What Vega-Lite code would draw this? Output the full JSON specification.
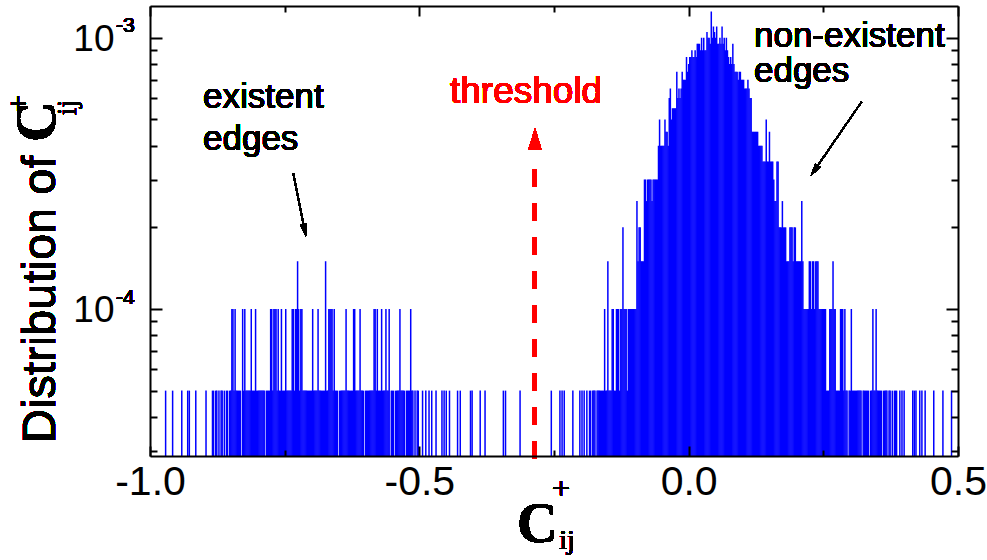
{
"$schema": "https://vega.github.io/schema/vega-lite/v6.json",
"width": 808, "height": 450,
"autosize": {"type": "none"},
"padding": {"left": 150, "top": 6, "right": 29, "bottom": 104},
"config": {"font": "Liberation Sans", "view": {"stroke": null}, "text": {"fontWeight": "normal", "strokeWidth": 0}},
"resolve": {"axis": {"x": "independent", "y": "independent"}},
"data": {"values": [
{"x":-0.971,"p":5e-5},{"x":-0.958,"p":5e-5},{"x":-0.941,"p":5e-5},{"x":-0.930,"p":5e-5},{"x":-0.927,"p":5e-5},{"x":-0.915,"p":5e-5},{"x":-0.896,"p":5e-5},
{"x":-0.884,"p":5e-5},{"x":-0.882,"p":5e-5},{"x":-0.878,"p":5e-5},{"x":-0.876,"p":5e-5},{"x":-0.872,"p":5e-5},{"x":-0.868,"p":5e-5},{"x":-0.866,"p":5e-5},{"x":-0.862,"p":5e-5},{"x":-0.858,"p":5e-5},{"x":-0.856,"p":5e-5},{"x":-0.852,"p":5e-5},{"x":-0.850,"p":5e-5},
{"x":-0.848,"p":1e-4},{"x":-0.846,"p":1e-4},{"x":-0.844,"p":5e-5},{"x":-0.842,"p":1e-4},{"x":-0.840,"p":5e-5},{"x":-0.838,"p":5e-5},{"x":-0.836,"p":5e-5},{"x":-0.834,"p":5e-5},{"x":-0.832,"p":5e-5},
{"x":-0.828,"p":1e-4},{"x":-0.826,"p":5e-5},{"x":-0.824,"p":1e-4},{"x":-0.822,"p":5e-5},{"x":-0.820,"p":5e-5},{"x":-0.818,"p":5e-5},{"x":-0.816,"p":5e-5},{"x":-0.814,"p":5e-5},
{"x":-0.812,"p":1e-4},{"x":-0.810,"p":5e-5},{"x":-0.808,"p":5e-5},{"x":-0.806,"p":5e-5},{"x":-0.804,"p":1e-4},
{"x":-0.802,"p":5e-5},{"x":-0.800,"p":5e-5},{"x":-0.798,"p":5e-5},{"x":-0.796,"p":5e-5},{"x":-0.794,"p":5e-5},{"x":-0.792,"p":5e-5},{"x":-0.790,"p":5e-5},{"x":-0.788,"p":5e-5},{"x":-0.784,"p":5e-5},{"x":-0.782,"p":5e-5},{"x":-0.780,"p":5e-5},{"x":-0.778,"p":5e-5},
{"x":-0.776,"p":1e-4},{"x":-0.774,"p":1e-4},{"x":-0.772,"p":5e-5},{"x":-0.770,"p":1e-4},{"x":-0.768,"p":1e-4},{"x":-0.766,"p":1e-4},{"x":-0.764,"p":5e-5},{"x":-0.762,"p":1e-4},
{"x":-0.760,"p":5e-5},{"x":-0.758,"p":5e-5},{"x":-0.756,"p":1e-4},{"x":-0.754,"p":5e-5},{"x":-0.752,"p":5e-5},{"x":-0.750,"p":5e-5},{"x":-0.748,"p":1e-4},
{"x":-0.746,"p":5e-5},{"x":-0.744,"p":5e-5},{"x":-0.742,"p":5e-5},{"x":-0.740,"p":5e-5},{"x":-0.738,"p":5e-5},
{"x":-0.736,"p":1e-4},{"x":-0.734,"p":1e-4},{"x":-0.732,"p":5e-5},{"x":-0.730,"p":1e-4},{"x":-0.728,"p":1e-4},{"x":-0.726,"p":1.5e-4},{"x":-0.724,"p":1e-4},{"x":-0.722,"p":5e-5},{"x":-0.720,"p":1e-4},{"x":-0.718,"p":1e-4},
{"x":-0.716,"p":5e-5},{"x":-0.714,"p":5e-5},{"x":-0.712,"p":5e-5},{"x":-0.710,"p":5e-5},{"x":-0.708,"p":5e-5},{"x":-0.706,"p":5e-5},{"x":-0.704,"p":5e-5},{"x":-0.702,"p":5e-5},{"x":-0.700,"p":5e-5},
{"x":-0.698,"p":1e-4},{"x":-0.696,"p":5e-5},{"x":-0.694,"p":5e-5},{"x":-0.692,"p":5e-5},{"x":-0.690,"p":5e-5},{"x":-0.688,"p":1e-4},
{"x":-0.686,"p":5e-5},{"x":-0.684,"p":5e-5},{"x":-0.682,"p":5e-5},{"x":-0.680,"p":5e-5},{"x":-0.678,"p":5e-5},{"x":-0.676,"p":5e-5},{"x":-0.674,"p":1.5e-4},{"x":-0.672,"p":5e-5},{"x":-0.670,"p":5e-5},
{"x":-0.668,"p":1e-4},{"x":-0.666,"p":1e-4},{"x":-0.664,"p":1e-4},{"x":-0.662,"p":1e-4},{"x":-0.660,"p":5e-5},{"x":-0.658,"p":1e-4},
{"x":-0.656,"p":5e-5},{"x":-0.654,"p":5e-5},{"x":-0.652,"p":5e-5},{"x":-0.648,"p":5e-5},{"x":-0.646,"p":5e-5},{"x":-0.644,"p":5e-5},{"x":-0.642,"p":5e-5},{"x":-0.640,"p":5e-5},{"x":-0.638,"p":5e-5},
{"x":-0.636,"p":1e-4},{"x":-0.634,"p":5e-5},{"x":-0.632,"p":5e-5},{"x":-0.630,"p":5e-5},{"x":-0.628,"p":5e-5},{"x":-0.626,"p":5e-5},{"x":-0.624,"p":5e-5},
{"x":-0.622,"p":1e-4},{"x":-0.620,"p":1e-4},{"x":-0.618,"p":5e-5},{"x":-0.616,"p":5e-5},{"x":-0.614,"p":5e-5},{"x":-0.612,"p":5e-5},{"x":-0.610,"p":1e-4},
{"x":-0.608,"p":5e-5},{"x":-0.606,"p":5e-5},{"x":-0.604,"p":5e-5},{"x":-0.600,"p":5e-5},{"x":-0.598,"p":5e-5},{"x":-0.596,"p":5e-5},{"x":-0.594,"p":5e-5},{"x":-0.592,"p":5e-5},{"x":-0.590,"p":5e-5},{"x":-0.588,"p":5e-5},{"x":-0.586,"p":5e-5},
{"x":-0.584,"p":1e-4},{"x":-0.582,"p":1e-4},{"x":-0.580,"p":5e-5},{"x":-0.578,"p":1e-4},{"x":-0.576,"p":5e-5},{"x":-0.574,"p":5e-5},{"x":-0.572,"p":5e-5},{"x":-0.570,"p":1e-4},
{"x":-0.568,"p":5e-5},{"x":-0.566,"p":5e-5},{"x":-0.564,"p":5e-5},{"x":-0.562,"p":1e-4},{"x":-0.560,"p":5e-5},{"x":-0.558,"p":5e-5},{"x":-0.556,"p":1e-4},
{"x":-0.552,"p":5e-5},{"x":-0.550,"p":5e-5},{"x":-0.548,"p":5e-5},{"x":-0.544,"p":5e-5},{"x":-0.542,"p":5e-5},{"x":-0.540,"p":5e-5},{"x":-0.538,"p":5e-5},{"x":-0.536,"p":1e-4},
{"x":-0.534,"p":5e-5},{"x":-0.532,"p":5e-5},{"x":-0.530,"p":5e-5},{"x":-0.528,"p":5e-5},{"x":-0.524,"p":5e-5},{"x":-0.522,"p":5e-5},{"x":-0.520,"p":5e-5},{"x":-0.518,"p":5e-5},{"x":-0.516,"p":1e-4},
{"x":-0.514,"p":5e-5},{"x":-0.512,"p":5e-5},{"x":-0.508,"p":5e-5},{"x":-0.504,"p":5e-5},{"x":-0.502,"p":5e-5},
{"x":-0.494,"p":5e-5},{"x":-0.488,"p":5e-5},{"x":-0.482,"p":5e-5},{"x":-0.477,"p":5e-5},{"x":-0.469,"p":5e-5},{"x":-0.458,"p":5e-5},{"x":-0.454,"p":5e-5},{"x":-0.450,"p":5e-5},{"x":-0.444,"p":5e-5},{"x":-0.429,"p":5e-5},{"x":-0.424,"p":5e-5},{"x":-0.405,"p":5e-5},{"x":-0.402,"p":5e-5},{"x":-0.387,"p":5e-5},{"x":-0.378,"p":5e-5},{"x":-0.344,"p":5e-5},{"x":-0.340,"p":5e-5},{"x":-0.313,"p":5e-5},{"x":-0.255,"p":5e-5},{"x":-0.239,"p":5e-5},{"x":-0.235,"p":5e-5},{"x":-0.231,"p":5e-5},{"x":-0.215,"p":5e-5},{"x":-0.202,"p":5e-5},{"x":-0.198,"p":5e-5},{"x":-0.194,"p":5e-5},{"x":-0.189,"p":5e-5},
{"x":-0.184,"p":5e-5},{"x":-0.182,"p":5e-5},{"x":-0.178,"p":5e-5},{"x":-0.176,"p":5e-5},{"x":-0.174,"p":5e-5},{"x":-0.170,"p":5e-5},{"x":-0.168,"p":5e-5},{"x":-0.166,"p":5e-5},{"x":-0.164,"p":5e-5},{"x":-0.162,"p":5e-5},{"x":-0.160,"p":5e-5},{"x":-0.158,"p":5e-5},
{"x":-0.156,"p":1e-4},{"x":-0.154,"p":5e-5},{"x":-0.152,"p":5e-5},{"x":-0.150,"p":1.5e-4},{"x":-0.148,"p":5e-5},{"x":-0.146,"p":5e-5},{"x":-0.144,"p":5e-5},{"x":-0.142,"p":1e-4},{"x":-0.140,"p":1e-4},{"x":-0.138,"p":5e-5},{"x":-0.136,"p":5e-5},
{"x":-0.134,"p":1e-4},{"x":-0.132,"p":1e-4},{"x":-0.130,"p":1e-4},{"x":-0.128,"p":5e-5},{"x":-0.126,"p":1e-4},{"x":-0.124,"p":1e-4},{"x":-0.122,"p":2e-4},{"x":-0.120,"p":1e-4},{"x":-0.118,"p":1e-4},{"x":-0.116,"p":1e-4},{"x":-0.114,"p":5e-5},{"x":-0.112,"p":1e-4},{"x":-0.110,"p":1e-4},{"x":-0.108,"p":1e-4},{"x":-0.106,"p":1e-4},{"x":-0.104,"p":1e-4},{"x":-0.102,"p":1e-4},{"x":-0.100,"p":1e-4},{"x":-0.098,"p":1e-4},
{"x":-0.096,"p":2.5e-4},{"x":-0.094,"p":1.5e-4},{"x":-0.092,"p":2e-4},{"x":-0.090,"p":2e-4},{"x":-0.088,"p":1.5e-4},{"x":-0.086,"p":1.5e-4},{"x":-0.084,"p":1.5e-4},
{"x":-0.082,"p":3e-4},{"x":-0.080,"p":3e-4},{"x":-0.078,"p":2.5e-4},{"x":-0.076,"p":3e-4},{"x":-0.074,"p":3e-4},{"x":-0.072,"p":3e-4},{"x":-0.070,"p":3e-4},{"x":-0.068,"p":2.5e-4},{"x":-0.066,"p":3e-4},{"x":-0.064,"p":3e-4},{"x":-0.062,"p":3e-4},{"x":-0.060,"p":3e-4},{"x":-0.058,"p":3e-4},
{"x":-0.056,"p":4e-4},{"x":-0.054,"p":5e-4},{"x":-0.052,"p":4e-4},{"x":-0.050,"p":4e-4},{"x":-0.048,"p":4e-4},{"x":-0.046,"p":4e-4},{"x":-0.044,"p":5e-4},{"x":-0.042,"p":4.5e-4},{"x":-0.040,"p":4.5e-4},{"x":-0.038,"p":4e-4},
{"x":-0.036,"p":6e-4},{"x":-0.034,"p":6.5e-4},{"x":-0.032,"p":5e-4},{"x":-0.030,"p":5.5e-4},{"x":-0.028,"p":5.5e-4},{"x":-0.026,"p":5.5e-4},{"x":-0.024,"p":5.5e-4},{"x":-0.022,"p":7.5e-4},{"x":-0.020,"p":6e-4},{"x":-0.018,"p":6.5e-4},{"x":-0.016,"p":6e-4},{"x":-0.014,"p":6.5e-4},{"x":-0.012,"p":7.5e-4},{"x":-0.010,"p":7e-4},{"x":-0.008,"p":7e-4},{"x":-0.006,"p":7e-4},{"x":-0.004,"p":8.5e-4},{"x":-0.002,"p":7.5e-4},
{"x":0.000,"p":8e-4},{"x":0.002,"p":8.5e-4},{"x":0.004,"p":8.5e-4},{"x":0.006,"p":9e-4},{"x":0.008,"p":8.5e-4},{"x":0.010,"p":8.5e-4},{"x":0.012,"p":9e-4},{"x":0.014,"p":8.5e-4},{"x":0.016,"p":9.5e-4},{"x":0.018,"p":9.5e-4},{"x":0.020,"p":9.5e-4},{"x":0.022,"p":9e-4},{"x":0.024,"p":1e-3},{"x":0.026,"p":9e-4},{"x":0.028,"p":1e-3},{"x":0.030,"p":9e-4},{"x":0.032,"p":9e-4},{"x":0.034,"p":1.05e-3},{"x":0.036,"p":1e-3},{"x":0.038,"p":1e-3},{"x":0.040,"p":9.5e-4},
{"x":0.042,"p":1.25e-3},{"x":0.044,"p":1e-3},{"x":0.046,"p":1.1e-3},{"x":0.048,"p":1.05e-3},{"x":0.050,"p":1e-3},{"x":0.052,"p":1.1e-3},{"x":0.054,"p":9.5e-4},{"x":0.056,"p":9.5e-4},{"x":0.058,"p":1e-3},{"x":0.060,"p":9.5e-4},{"x":0.062,"p":1.1e-3},{"x":0.064,"p":9.5e-4},{"x":0.066,"p":1e-3},{"x":0.068,"p":9e-4},{"x":0.070,"p":1e-3},{"x":0.072,"p":9e-4},{"x":0.074,"p":8.5e-4},{"x":0.076,"p":8e-4},{"x":0.078,"p":8.5e-4},{"x":0.080,"p":8e-4},{"x":0.082,"p":9.5e-4},{"x":0.084,"p":8e-4},
{"x":0.086,"p":7.5e-4},{"x":0.088,"p":7.5e-4},{"x":0.090,"p":7.5e-4},{"x":0.092,"p":7e-4},{"x":0.094,"p":7.5e-4},{"x":0.096,"p":7.5e-4},{"x":0.098,"p":7e-4},{"x":0.100,"p":7e-4},{"x":0.102,"p":7e-4},{"x":0.104,"p":6.5e-4},{"x":0.106,"p":6.5e-4},{"x":0.108,"p":6.5e-4},{"x":0.110,"p":7e-4},{"x":0.112,"p":6.5e-4},{"x":0.114,"p":6e-4},{"x":0.116,"p":6e-4},
{"x":0.118,"p":4.5e-4},{"x":0.120,"p":4.5e-4},{"x":0.122,"p":4.5e-4},{"x":0.124,"p":4.5e-4},{"x":0.126,"p":4.5e-4},{"x":0.128,"p":4.5e-4},{"x":0.130,"p":4e-4},{"x":0.132,"p":4e-4},{"x":0.134,"p":4e-4},{"x":0.136,"p":4e-4},{"x":0.138,"p":3.5e-4},{"x":0.140,"p":3.5e-4},{"x":0.142,"p":3.5e-4},{"x":0.144,"p":5e-4},{"x":0.146,"p":3.5e-4},{"x":0.148,"p":3.5e-4},{"x":0.150,"p":4.5e-4},{"x":0.152,"p":3.5e-4},{"x":0.154,"p":3.5e-4},{"x":0.156,"p":3.5e-4},{"x":0.158,"p":3e-4},
{"x":0.160,"p":2.5e-4},{"x":0.162,"p":2.5e-4},{"x":0.164,"p":3.5e-4},{"x":0.166,"p":3.5e-4},{"x":0.168,"p":2e-4},{"x":0.170,"p":2e-4},{"x":0.172,"p":2e-4},{"x":0.174,"p":2.5e-4},{"x":0.176,"p":2e-4},{"x":0.178,"p":2e-4},{"x":0.180,"p":2e-4},{"x":0.182,"p":1.5e-4},{"x":0.184,"p":1.5e-4},{"x":0.186,"p":1.5e-4},{"x":0.188,"p":2e-4},{"x":0.190,"p":2e-4},{"x":0.192,"p":2e-4},{"x":0.194,"p":1.5e-4},{"x":0.196,"p":2e-4},{"x":0.198,"p":2e-4},
{"x":0.200,"p":1.5e-4},{"x":0.202,"p":1.5e-4},{"x":0.204,"p":1.5e-4},{"x":0.206,"p":1.5e-4},{"x":0.208,"p":1.5e-4},{"x":0.210,"p":2.5e-4},{"x":0.212,"p":1.5e-4},{"x":0.214,"p":1e-4},{"x":0.216,"p":1e-4},{"x":0.218,"p":1e-4},{"x":0.220,"p":1e-4},{"x":0.222,"p":1e-4},{"x":0.224,"p":1.5e-4},{"x":0.226,"p":1.5e-4},{"x":0.228,"p":1e-4},{"x":0.230,"p":1.5e-4},{"x":0.232,"p":1.5e-4},{"x":0.234,"p":1e-4},{"x":0.236,"p":1.5e-4},{"x":0.238,"p":1.5e-4},{"x":0.240,"p":1.5e-4},
{"x":0.242,"p":1e-4},{"x":0.244,"p":1e-4},{"x":0.246,"p":1e-4},{"x":0.248,"p":1e-4},{"x":0.250,"p":1e-4},{"x":0.252,"p":1e-4},{"x":0.254,"p":1e-4},{"x":0.256,"p":5e-5},{"x":0.258,"p":5e-5},{"x":0.260,"p":5e-5},{"x":0.262,"p":1e-4},{"x":0.264,"p":1e-4},{"x":0.266,"p":1e-4},{"x":0.268,"p":1.5e-4},{"x":0.270,"p":1e-4},{"x":0.272,"p":1e-4},{"x":0.274,"p":5e-5},{"x":0.276,"p":5e-5},{"x":0.278,"p":5e-5},{"x":0.280,"p":5e-5},{"x":0.282,"p":1e-4},{"x":0.284,"p":1e-4},{"x":0.286,"p":1e-4},{"x":0.288,"p":5e-5},{"x":0.290,"p":1e-4},{"x":0.292,"p":5e-5},
{"x":0.294,"p":5e-5},{"x":0.298,"p":5e-5},{"x":0.300,"p":5e-5},{"x":0.302,"p":1e-4},{"x":0.304,"p":5e-5},{"x":0.306,"p":5e-5},{"x":0.308,"p":5e-5},{"x":0.310,"p":5e-5},{"x":0.312,"p":5e-5},{"x":0.314,"p":5e-5},{"x":0.316,"p":5e-5},{"x":0.318,"p":5e-5},{"x":0.320,"p":5e-5},{"x":0.324,"p":5e-5},{"x":0.326,"p":5e-5},{"x":0.328,"p":5e-5},{"x":0.330,"p":5e-5},{"x":0.332,"p":5e-5},{"x":0.334,"p":5e-5},{"x":0.338,"p":5e-5},{"x":0.340,"p":5e-5},{"x":0.342,"p":1e-4},{"x":0.344,"p":5e-5},{"x":0.346,"p":5e-5},{"x":0.348,"p":1e-4},{"x":0.350,"p":5e-5},{"x":0.352,"p":5e-5},{"x":0.354,"p":5e-5},{"x":0.356,"p":5e-5},{"x":0.358,"p":5e-5},{"x":0.362,"p":5e-5},{"x":0.364,"p":5e-5},{"x":0.366,"p":5e-5},{"x":0.368,"p":5e-5},{"x":0.372,"p":5e-5},{"x":0.374,"p":5e-5},{"x":0.378,"p":5e-5},{"x":0.382,"p":5e-5},{"x":0.384,"p":5e-5},
{"x":0.386,"p":5e-5},{"x":0.392,"p":5e-5},{"x":0.396,"p":5e-5},{"x":0.400,"p":5e-5},{"x":0.416,"p":5e-5},{"x":0.419,"p":5e-5},{"x":0.422,"p":5e-5},{"x":0.429,"p":5e-5},{"x":0.433,"p":5e-5},{"x":0.439,"p":5e-5},{"x":0.455,"p":5e-5},{"x":0.472,"p":5e-5},{"x":0.488,"p":5e-5}
]},
"layer": [
{"mark": {"type": "rule", "color": "#0000ff", "strokeWidth": 1.5},
 "encoding": {
  "x": {"field": "x", "type": "quantitative", "scale": {"domain": [-1, 0.5], "nice": false, "zero": false},
   "axis": {"orient": "bottom", "title": null, "grid": false, "zindex": 1, "values": [-1, -0.75, -0.5, -0.25, 0, 0.25, 0.5],
    "domainColor": "black", "domainWidth": 2, "tickColor": "black", "tickWidth": 2, "tickSize": -10,
    "tickDash": {"condition": {"test": "datum.value == -0.75 || datum.value == -0.25 || datum.value == 0.25", "value": [6, 20]}, "value": [10, 0]},
    "labelExpr": "datum.value == -1 ? '-1.0' : datum.value == -0.5 ? '-0.5' : datum.value == 0 ? '0.0' : datum.value == 0.5 ? '0.5' : ''",
    "labelFont": "Liberation Sans", "labelFontSize": 41, "labelColor": "black", "labelPadding": 16, "labelFlush": false, "labelOverlap": false}},
  "y": {"field": "p", "type": "quantitative", "scale": {"type": "log", "domain": [2.87e-5, 0.00131], "nice": false},
   "axis": {"orient": "left", "title": null, "grid": false, "zindex": 1,
    "values": [3e-5, 4e-5, 5e-5, 6e-5, 7e-5, 8e-5, 9e-5, 0.0001, 0.0002, 0.0003, 0.0004, 0.0005, 0.0006, 0.0007, 0.0008, 0.0009, 0.001],
    "domainColor": "black", "domainWidth": 2, "tickColor": "black", "tickWidth": 2, "tickSize": -12,
    "tickDash": {"condition": {"test": "datum.value != 0.001 && datum.value != 0.0001", "value": [7, 20]}, "value": [12, 0]},
    "labelExpr": "datum.value == 0.001 || datum.value == 0.0001 ? '10' : ''",
    "labelFont": "Liberation Sans", "labelFontSize": 37, "labelColor": "black", "labelPadding": 48, "labelOffset": 2, "labelOverlap": false, "labelFlush": false}},
  "y2": {"datum": 2.87e-5}
 }},
{"mark": {"type": "rule", "color": "#ff0000", "strokeWidth": 4, "strokeDash": [18, 16]},
 "encoding": {
  "x": {"datum": -0.2853, "axis": {"orient": "top", "title": null, "grid": false, "zindex": 1, "labels": false, "values": [-1, -0.75, -0.5, -0.25, 0, 0.25, 0.5],
    "domainColor": "black", "domainWidth": 2, "tickColor": "black", "tickWidth": 2, "tickSize": -10,
    "tickDash": {"condition": {"test": "datum.value == -0.75 || datum.value == -0.25 || datum.value == 0.25", "value": [6, 20]}, "value": [10, 0]}}},
  "y": {"datum": 2.8e-5, "axis": {"orient": "right", "title": null, "grid": false, "zindex": 1, "labels": false,
    "values": [3e-5, 4e-5, 5e-5, 6e-5, 7e-5, 8e-5, 9e-5, 0.0001, 0.0002, 0.0003, 0.0004, 0.0005, 0.0006, 0.0007, 0.0008, 0.0009, 0.001],
    "domainColor": "black", "domainWidth": 2, "tickColor": "black", "tickWidth": 2, "tickSize": -12,
    "tickDash": {"condition": {"test": "datum.value != 0.001 && datum.value != 0.0001", "value": [7, 20]}, "value": [12, 0]}}},
  "y2": {"datum": 3.727e-4}
 }},
{"mark": {"type": "point", "shape": "M0,-1L0.613,1L-0.613,1Z", "filled": true, "fill": "#ff0000", "size": 471, "opacity": 1, "strokeWidth": 0},
 "encoding": {"x": {"datum": -0.2853, "axis": null}, "y": {"datum": 4.23e-4, "axis": null}}},
{"mark": {"type": "text", "text": "threshold", "fill": "#ff0000", "font": "Liberation Sans", "fontWeight": "normal", "fontSize": 37, "align": "left", "baseline": "alphabetic"},
 "encoding": {"x": {"datum": -0.4431, "axis": null}, "y": {"datum": 5.744e-4, "axis": null}}},
{"mark": {"type": "text", "text": "existent", "fill": "black", "font": "Liberation Sans", "fontWeight": "normal", "fontSize": 35, "align": "left", "baseline": "alphabetic"},
 "encoding": {"x": {"datum": -0.9016, "axis": null}, "y": {"datum": 5.506e-4, "axis": null}}},
{"mark": {"type": "text", "text": "edges", "fill": "black", "font": "Liberation Sans", "fontWeight": "normal", "fontSize": 35, "align": "left", "baseline": "alphabetic"},
 "encoding": {"x": {"datum": -0.9016, "axis": null}, "y": {"datum": 3.856e-4, "axis": null}}},
{"mark": {"type": "text", "text": "non-existent", "fill": "black", "font": "Liberation Sans", "fontWeight": "normal", "fontSize": 35, "align": "left", "baseline": "alphabetic"},
 "encoding": {"x": {"datum": 0.1212, "axis": null}, "y": {"datum": 9.24e-4, "axis": null}}},
{"mark": {"type": "text", "text": "edges", "fill": "black", "font": "Liberation Sans", "fontWeight": "normal", "fontSize": 35, "align": "left", "baseline": "alphabetic"},
 "encoding": {"x": {"datum": 0.1212, "axis": null}, "y": {"datum": 6.866e-4, "axis": null}}},
{"mark": {"type": "rule", "color": "black", "strokeWidth": 1.3},
 "encoding": {"x": {"datum": -0.734, "axis": null}, "y": {"datum": 3.164e-4, "axis": null}, "x2": {"datum": -0.7128}, "y2": {"datum": 1.95e-4}}},
{"mark": {"type": "point", "shape": "M0,-1L0.5,1L-0.5,1Z", "filled": true, "fill": "black", "size": 169, "angle": 168.7, "opacity": 1, "strokeWidth": 0},
 "encoding": {"x": {"datum": -0.7128, "axis": null}, "y": {"datum": 1.95e-4, "axis": null}}},
{"mark": {"type": "rule", "color": "black", "strokeWidth": 1.3},
 "encoding": {"x": {"datum": 0.3211, "axis": null}, "y": {"datum": 5.81e-4, "axis": null}, "x2": {"datum": 0.2332}, "y2": {"datum": 3.236e-4}}},
{"mark": {"type": "point", "shape": "M0,-1L0.5,1L-0.5,1Z", "filled": true, "fill": "black", "size": 169, "angle": 214.5, "opacity": 1, "strokeWidth": 0},
 "encoding": {"x": {"datum": 0.2332, "axis": null}, "y": {"datum": 3.236e-4, "axis": null}}},
{"mark": {"type": "text", "text": "-3", "fill": "black", "font": "Liberation Sans", "fontWeight": "normal", "fontSize": 21, "align": "left", "baseline": "alphabetic"},
 "encoding": {"x": {"datum": -1.063, "axis": null}, "y": {"datum": 1.052e-3, "axis": null}}},
{"mark": {"type": "text", "text": "-4", "fill": "black", "font": "Liberation Sans", "fontWeight": "normal", "fontSize": 21, "align": "left", "baseline": "alphabetic"},
 "encoding": {"x": {"datum": -1.063, "axis": null}, "y": {"datum": 1.043e-4, "axis": null}}},
{"mark": {"type": "text", "text": "Distribution of ", "angle": 270, "fill": "black", "font": "Liberation Sans", "fontWeight": "normal", "fontSize": 47, "align": "left", "baseline": "alphabetic"},
 "encoding": {"x": {"datum": -1.1764, "axis": null}, "y": {"datum": 3.207e-5, "axis": null}}},
{"mark": {"type": "text", "text": "C", "angle": 270, "fill": "black", "font": "Liberation Serif", "fontWeight": "bold", "fontSize": 56, "align": "left", "baseline": "alphabetic"},
 "encoding": {"x": {"datum": -1.1764, "axis": null}, "y": {"datum": 4.126e-4, "axis": null}}},
{"mark": {"type": "text", "text": "+", "angle": 270, "fill": "black", "font": "Liberation Serif", "fontWeight": "normal", "fontSize": 32, "align": "center", "baseline": "middle"},
 "encoding": {"x": {"datum": -1.2432, "axis": null}, "y": {"datum": 5.72e-4, "axis": null}}},
{"mark": {"type": "text", "text": "ij", "angle": 270, "fill": "black", "font": "Liberation Serif", "fontWeight": "normal", "fontSize": 28, "align": "center", "baseline": "middle"},
 "encoding": {"x": {"datum": -1.1522, "axis": null}, "y": {"datum": 5.53e-4, "axis": null}}},
{"mark": {"type": "text", "text": "C", "fill": "black", "font": "Liberation Serif", "fontWeight": "bold", "fontSize": 56, "align": "left", "baseline": "alphabetic"},
 "encoding": {"x": {"datum": -0.3187, "axis": null}, "y": {"datum": 1.38e-5, "axis": null}}},
{"mark": {"type": "text", "text": "+", "fill": "black", "font": "Liberation Serif", "fontWeight": "normal", "fontSize": 32, "align": "center", "baseline": "middle"},
 "encoding": {"x": {"datum": -0.237, "axis": null}, "y": {"datum": 2.17e-5, "axis": null}}},
{"mark": {"type": "text", "text": "ij", "fill": "black", "font": "Liberation Serif", "fontWeight": "normal", "fontSize": 28, "align": "center", "baseline": "middle"},
 "encoding": {"x": {"datum": -0.2259, "axis": null}, "y": {"datum": 1.396e-5, "axis": null}}}
]
}
